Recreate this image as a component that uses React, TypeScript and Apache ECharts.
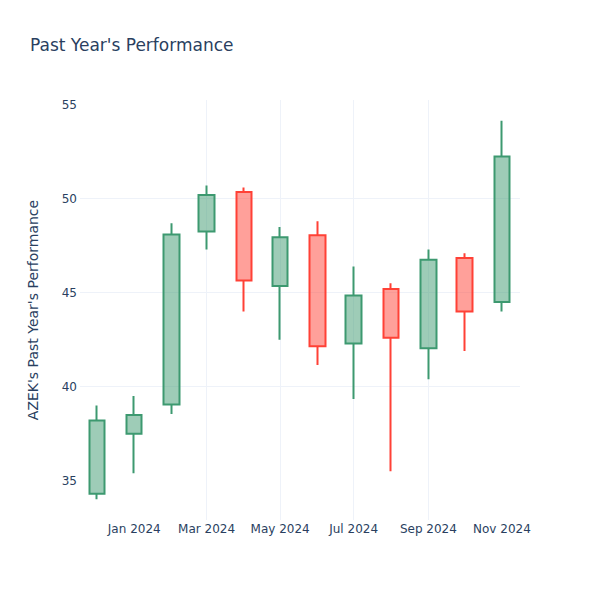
import React, { useEffect, useRef } from "react";
import * as echarts from "echarts";

// Monthly candles (first day of each month)
const months: [number, number][] = [
  [2023, 11], [2024, 0], [2024, 1], [2024, 2], [2024, 3], [2024, 4],
  [2024, 5], [2024, 6], [2024, 7], [2024, 8], [2024, 9], [2024, 10],
];
const opens = [34.3, 37.5, 39.05, 48.25, 50.35, 45.35, 48.05, 42.3, 45.2, 42.05, 46.85, 44.5];
const closes = [38.2, 38.5, 48.1, 50.2, 45.65, 47.95, 42.15, 44.85, 42.6, 46.75, 44.0, 52.25];
const lows = [34.02, 35.4, 38.55, 47.3, 44.0, 42.5, 41.15, 39.35, 35.5, 40.4, 41.9, 44.0];
const highs = [39.0, 39.5, 48.7, 50.7, 50.6, 48.5, 48.8, 46.4, 45.5, 47.3, 47.1, 54.15];

const xTickMonths: [number, number][] = [
  [2024, 0], [2024, 2], [2024, 4], [2024, 6], [2024, 8], [2024, 10],
];
const yTicks = [35, 40, 45, 50, 55];
const monthNames = ["Jan", "Feb", "Mar", "Apr", "May", "Jun", "Jul", "Aug", "Sep", "Oct", "Nov", "Dec"];

const FONT = "DejaVu Sans";
const TEXT = "#2a3f5f";
const GRID = "#EEF2F9";

export default function App() {
  const ref = useRef<HTMLDivElement>(null);
  useEffect(() => {
    document.body.style.margin = "0";
    if (!ref.current) return;
    const chart = echarts.init(ref.current, undefined, { renderer: "svg" });
    const ts = (y: number, m: number, d = 1) => new Date(y, m, d).getTime();
    const data = months.map(([y, m], i) => [ts(y, m), opens[i], closes[i], lows[i], highs[i]]);
    const xTicks = xTickMonths.map(([y, m]) => ts(y, m));
    chart.setOption({
      animation: false,
      backgroundColor: "#fff",
      title: {
        text: "Past Year's Performance",
        left: 25,
        top: 31,
        textStyle: { fontFamily: FONT, fontSize: 17, fontWeight: "normal", color: TEXT },
      },
      grid: { left: 80, right: 80, top: 100, bottom: 80, containLabel: false },
      xAxis: {
        type: "value",
        min: ts(2023, 10, 17),
        max: ts(2024, 10, 16),
        axisLine: { show: false },
        axisTick: { show: false, customValues: xTicks },
        splitLine: { show: true, showMinLine: false, showMaxLine: false, lineStyle: { color: GRID, width: 1 } },
        axisLabel: {
          customValues: xTicks,
          formatter: (v: number) => {
            const d = new Date(v);
            return monthNames[d.getMonth()] + " " + d.getFullYear();
          },
          color: TEXT,
          fontFamily: FONT,
          fontSize: 12,
          margin: 3,
          hideOverlap: false,
        },
      },
      yAxis: {
        type: "value",
        min: 32.91,
        max: 55.25,
        name: "AZEK's Past Year's Performance",
        nameLocation: "middle",
        nameRotate: 90,
        nameGap: 40,
        nameTextStyle: { fontFamily: FONT, fontSize: 14, color: TEXT },
        axisLine: { show: false },
        axisTick: { show: false, customValues: yTicks },
        splitLine: { show: true, showMinLine: false, showMaxLine: false, lineStyle: { color: GRID, width: 1 } },
        axisLabel: {
          customValues: yTicks,
          color: TEXT,
          fontFamily: FONT,
          fontSize: 12,
          margin: 3,
        },
      },
      series: [
        {
          type: "candlestick",
          data,
          barWidth: 16,
          itemStyle: {
            color: "rgba(61,153,112,0.5)",
            color0: "rgba(255,65,54,0.5)",
            borderColor: "#3D9970",
            borderColor0: "#FF4136",
            borderWidth: 2,
          },
        },
      ],
    });
    return () => chart.dispose();
  }, []);
  return <div ref={ref} style={{ width: 600, height: 600 }} />;
}
